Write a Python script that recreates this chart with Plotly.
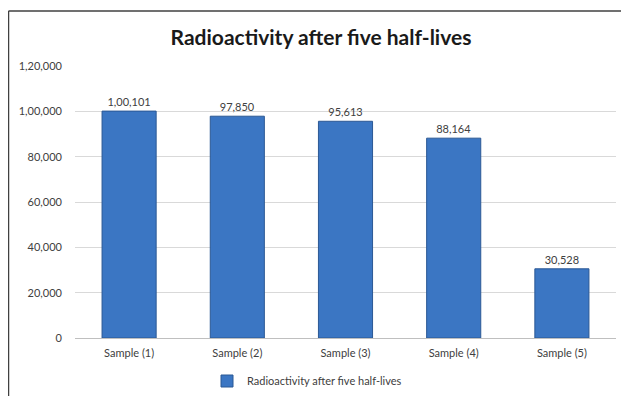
import plotly.graph_objects as go

categories = ["Sample (1)", "Sample (2)", "Sample (3)", "Sample (4)", "Sample (5)"]
values = [100101, 97850, 95613, 88164, 30528]
tick_vals = [0, 20000, 40000, 60000, 80000, 100000, 120000]
series_name = "Radioactivity after five half-lives"
title_text = "Radioactivity after five half-lives"


def indian(n):
    s = str(int(n))
    if len(s) <= 3:
        return s
    last3 = s[-3:]
    rest = s[:-3]
    parts = []
    while len(rest) > 2:
        parts.insert(0, rest[-2:])
        rest = rest[:-2]
    if rest:
        parts.insert(0, rest)
    return ",".join(parts + [last3])


OFF = 8  # page body margin
W, H = 629 - OFF, 396 - OFF
L, R, T, B = 67, 13, 58, 58
pw, ph = W - L - R, H - T - B
FONT = "Lato, Open Sans, sans-serif"


def px_x(p):
    # reference screen x -> paper x
    return (p - OFF - L) / pw


def px_y(p):
    # reference screen y -> paper y
    return (H - B - (p - OFF)) / ph


fig = go.Figure()
fig.add_trace(go.Bar(
    x=categories, y=values, name=series_name,
    marker=dict(color="#3b76c3", line=dict(color="#2b5894", width=1)),
    width=0.5,
    text=[indian(v) for v in values], textposition="outside",
    textfont=dict(family=FONT, size=11, color="#404040"),
    cliponaxis=False,
    showlegend=True,
))

fig.add_shape(type="line", xref="paper", yref="paper",
              x0=px_x(8.5), x1=px_x(8.5), y0=px_y(11), y1=px_y(400),
              line=dict(color="#404040", width=1.5))
fig.add_shape(type="line", xref="paper", yref="paper",
              x0=px_x(8.5), x1=px_x(640), y0=px_y(11), y1=px_y(11),
              line=dict(color="#404040", width=1.5))

fig.update_layout(
    width=W, height=H,
    margin=dict(l=L, r=R, t=T, b=B, autoexpand=False),
    paper_bgcolor="white", plot_bgcolor="white",
    font=dict(family=FONT, size=11, color="#404040"),
    title=dict(text="<b>" + title_text + "</b>", x=(321 - OFF) / W, xanchor="center",
               y=1 - (38 - OFF) / H, yanchor="middle", automargin=False,
               font=dict(family=FONT, size=21, color="#1a1a1a")),
    bargap=0.5,
    xaxis=dict(showgrid=False, showline=True, linecolor="#bfbfbf", linewidth=1,
               ticks="", ticklabelstandoff=5, automargin=False,
               tickfont=dict(size=11, color="#404040")),
    yaxis=dict(range=[0, 120000], tickvals=tick_vals,
               ticktext=[indian(v) for v in tick_vals],
               showgrid=True, gridcolor="#d9d9d9", gridwidth=1, zeroline=False,
               showline=False, ticks="", ticklabelstandoff=12, automargin=False,
               tickfont=dict(size=11, color="#404040")),
    legend=dict(orientation="h", xref="paper", x=px_x(207), xanchor="left",
                yref="container", y=(H - (381 - OFF)) / H, yanchor="middle",
                font=dict(size=11, color="#404040")),
)

fig.write_html("out.html")
